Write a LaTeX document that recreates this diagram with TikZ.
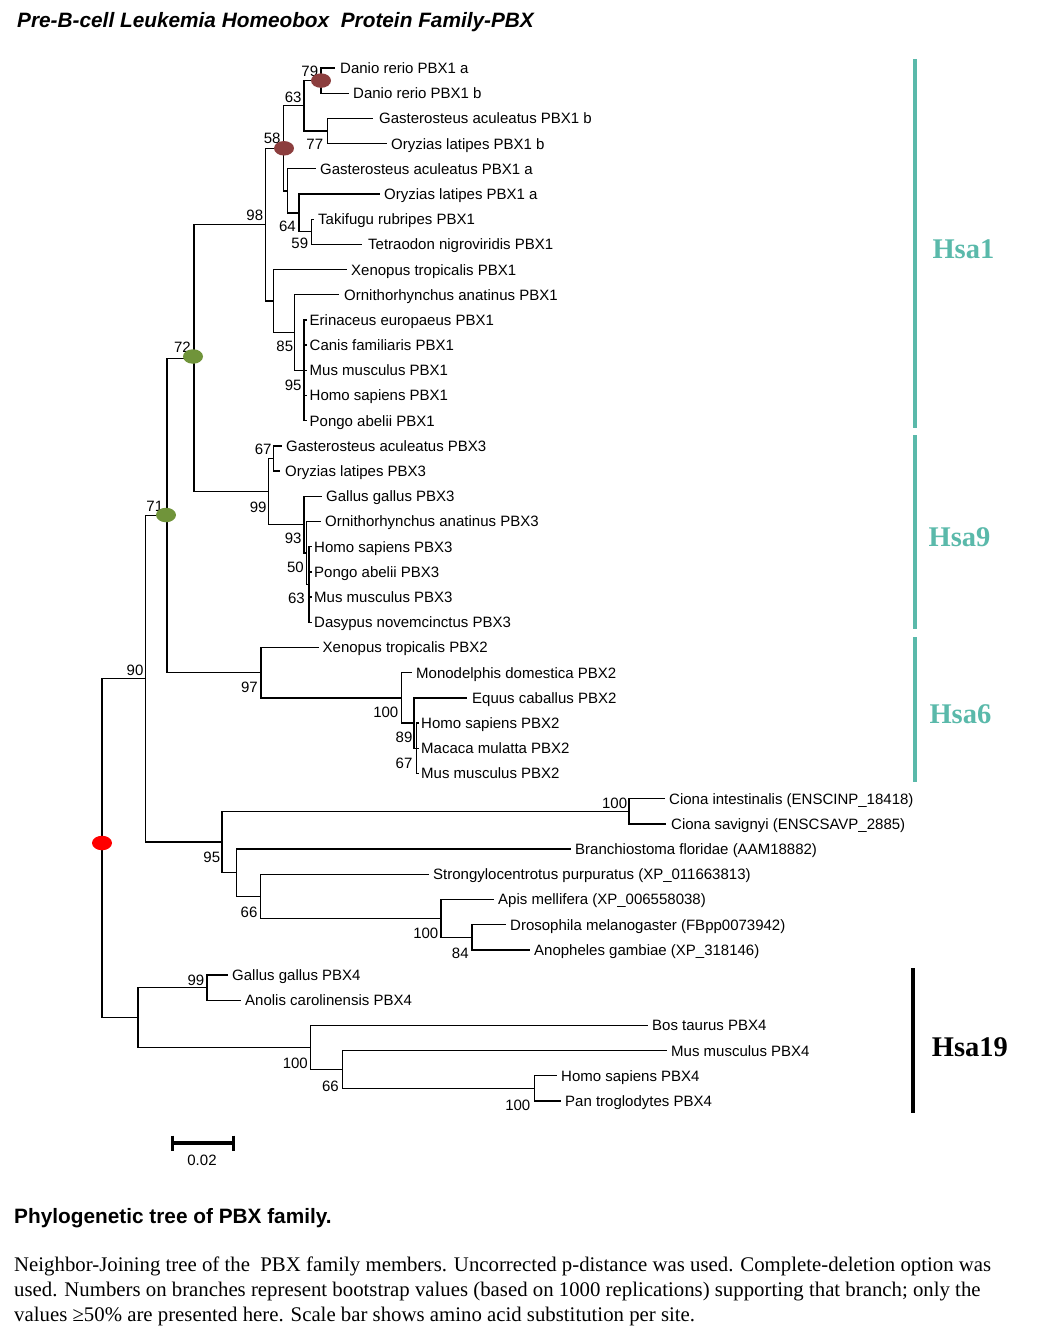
\documentclass[tikz,border=0pt]{standalone}
\usepackage{fontspec}
\newfontfamily\arialf{Liberation Sans}
\newfontfamily\tnrf{Liberation Serif}
\usetikzlibrary{shapes.geometric}
\definecolor{hteal}{RGB}{90,185,170}
\definecolor{dotred}{RGB}{255,0,0}
\definecolor{dotdark}{RGB}{140,62,62}
\definecolor{dotgreen}{RGB}{112,148,58}
\tikzset{
  branch/.style={line width=1.3pt, line join=miter, black},
  leaflab/.style={font=\arialf\fontsize{15}{17}\selectfont, anchor=base west, inner sep=0pt},
  bslab/.style={font=\arialf\fontsize{15}{17}\selectfont, anchor=base east, inner sep=0pt},
  dotnode/.style={shape=ellipse, minimum width=20pt, minimum height=14.5pt, inner sep=0pt, draw=none},
  hsalab/.style={font=\tnrf\bfseries\fontsize{28.5}{32}\selectfont, anchor=base west, inner sep=0pt},
  hsabar/.style={line width=4pt, hteal},
  captxt/.style={font=\tnrf\fontsize{20.8}{25}\selectfont, anchor=base west, inner sep=0pt},
}
\newcommand{\leaf}[5]{%
  \coordinate (#1) at (#2,#3);
  \node[leaflab] (#1t) at (#4,#3+5.4) {#5};}
\newcommand{\bsv}[4]{\node[bslab] (#1) at (#2,#3+5.4) {#4};}
\begin{document}
\begin{tikzpicture}[x=1pt,y=-1pt]
\useasboundingbox (0,0) rectangle (1051,1339);
% title
\node[font=\arialf\bfseries\itshape\fontsize{20.8}{24}\selectfont, anchor=base west, inner sep=0pt] (title) at (17,27.4) {Pre-B-cell Leukemia Homeobox~ Protein Family-PBX};
% leaves
\leaf{l0}{335}{68.0}{340}{Danio rerio PBX1 a}
\leaf{l1}{349}{93.2}{353}{Danio rerio PBX1 b}
\leaf{l2}{373}{118.4}{379}{Gasterosteus aculeatus PBX1 b}
\leaf{l3}{387}{143.6}{391}{Oryzias latipes PBX1 b}
\leaf{l4}{316}{168.8}{320}{Gasterosteus aculeatus PBX1 a}
\leaf{l5}{380}{194.0}{384}{Oryzias latipes PBX1 a}
\leaf{l6}{314}{219.2}{318}{Takifugu rubripes PBX1}
\leaf{l7}{362}{244.4}{368}{Tetraodon nigroviridis PBX1}
\leaf{l8}{347}{269.6}{351}{Xenopus tropicalis PBX1}
\leaf{l9}{339}{294.8}{344}{Ornithorhynchus anatinus PBX1}
\leaf{l10}{306.5}{320.0}{309.5}{Erinaceus europaeus PBX1}
\leaf{l11}{306.5}{345.1}{309.5}{Canis familiaris PBX1}
\leaf{l12}{306.5}{370.3}{309.5}{Mus musculus PBX1}
\leaf{l13}{306.5}{395.5}{309.5}{Homo sapiens PBX1}
\leaf{l14}{306.5}{420.7}{309.5}{Pongo abelii PBX1}
\leaf{l15}{281.7}{445.9}{286}{Gasterosteus aculeatus PBX3}
\leaf{l16}{280}{471.1}{285}{Oryzias latipes PBX3}
\leaf{l17}{321.7}{496.3}{326}{Gallus gallus PBX3}
\leaf{l18}{320.7}{521.5}{325}{Ornithorhynchus anatinus PBX3}
\leaf{l19}{311.5}{546.7}{314}{Homo sapiens PBX3}
\leaf{l20}{311.5}{571.9}{314}{Pongo abelii PBX3}
\leaf{l21}{311.5}{597.1}{314}{Mus musculus PBX3}
\leaf{l22}{311.5}{622.3}{314}{Dasypus novemcinctus PBX3}
\leaf{l23}{319}{647.5}{322.5}{Xenopus tropicalis PBX2}
\leaf{l24}{412}{672.7}{416}{Monodelphis domestica PBX2}
\leaf{l25}{467}{697.9}{472}{Equus caballus PBX2}
\leaf{l26}{418.5}{723.1}{421}{Homo sapiens PBX2}
\leaf{l27}{418.5}{748.3}{421}{Macaca mulatta PBX2}
\leaf{l28}{418.5}{773.5}{421}{Mus musculus PBX2}
\leaf{l29}{665}{798.7}{669}{Ciona intestinalis (ENSCINP\_18418)}
\leaf{l30}{666}{823.9}{671}{Ciona savignyi (ENSCSAVP\_2885)}
\leaf{l31}{571}{849.1}{575}{Branchiostoma floridae (AAM18882)}
\leaf{l32}{429}{874.3}{433}{Strongylocentrotus purpuratus (XP\_011663813)}
\leaf{l33}{494}{899.5}{498}{Apis mellifera (XP\_006558038)}
\leaf{l34}{506}{924.7}{510}{Drosophila melanogaster (FBpp0073942)}
\leaf{l35}{530}{949.9}{534}{Anopheles gambiae (XP\_318146)}
\leaf{l36}{228}{975.1}{232}{Gallus gallus PBX4}
\leaf{l37}{241}{1000.3}{245}{Anolis carolinensis PBX4}
\leaf{l38}{648}{1025.5}{652}{Bos taurus PBX4}
\leaf{l39}{667}{1050.7}{671}{Mus musculus PBX4}
\leaf{l40}{557}{1075.8}{561}{Homo sapiens PBX4}
\leaf{l41}{561}{1101.0}{565}{Pan troglodytes PBX4}
% internal nodes
\coordinate (root) at (102,848.15);
\coordinate (n90) at (145.4,678.7);
\coordinate (n71) at (167,515.4);
\coordinate (n72) at (194,358.15);
\coordinate (n98) at (265.7,224.7);
\coordinate (n58) at (283.5,148.3);
\coordinate (n63) at (304,105.8);
\coordinate (nD) at (321,80.6);
\coordinate (n77) at (327.7,131.0);
\coordinate (nY) at (287.7,190.85);
\coordinate (n64) at (299,212.9);
\coordinate (n59) at (311.7,231.8);
\coordinate (nZ) at (273.3,301.1);
\coordinate (n85) at (294.3,332.6);
\coordinate (nM1) at (304,370.35);
\coordinate (n99a) at (268.3,491.6);
\coordinate (n67a) at (273.3,458.5);
\coordinate (n93) at (304,524.65);
\coordinate (nO3) at (306.5,553.0);
\coordinate (nM3) at (309,584.5);
\coordinate (n97) at (261,672.7);
\coordinate (n100b) at (401.3,697.9);
\coordinate (n89) at (414,723.1);
\coordinate (nX) at (416.5,748.3);
\coordinate (n95) at (222,842.0);
\coordinate (nCi) at (629,811.3);
\coordinate (nB) at (236.3,872.7);
\coordinate (n66a) at (260.2,896.35);
\coordinate (n100i) at (441.1,918.4);
\coordinate (n84) at (472,937.3);
\coordinate (nP4) at (137.9,1017.6);
\coordinate (n99p) at (207,987.7);
\coordinate (n100p) at (310.8,1047.5);
\coordinate (n66p) at (342.7,1069.55);
\coordinate (n100h) at (534.2,1088.4);
% branches
\foreach \p/\c in {root/n90,root/nP4,n90/n71,n90/n95,n71/n72,n71/n97,n72/n98,n72/n99a,
  n98/n58,n98/nZ,n58/n63,n58/nY,n63/nD,n63/n77,nD/l0,nD/l1,n77/l2,n77/l3,
  nY/l4,nY/n64,n64/l5,n64/n59,n59/l6,n59/l7,nZ/l8,nZ/n85,n85/l9,n85/nM1,
  nM1/l10,nM1/l11,nM1/l12,nM1/l13,nM1/l14,n99a/n67a,n99a/n93,n67a/l15,n67a/l16,
  n93/l17,n93/nO3,nO3/l18,nO3/nM3,nM3/l19,nM3/l20,nM3/l21,nM3/l22,
  n97/l23,n97/n100b,n100b/l24,n100b/n89,n89/l25,n89/nX,nX/l26,nX/l27,nX/l28,
  n95/nCi,n95/nB,nCi/l29,nCi/l30,nB/l31,nB/n66a,n66a/l32,n66a/n100i,n100i/l33,n100i/n84,
  n84/l34,n84/l35,nP4/n99p,nP4/n100p,n99p/l36,n99p/l37,n100p/l38,n100p/n66p,
  n66p/l39,n66p/n100h,n100h/l40,n100h/l41}
  \draw[branch] (\p) |- (\c);
% bootstrap values
\bsv{b79}{318.3}{70.7}{79}
\bsv{b63}{301.7}{96.7}{63}
\bsv{b77}{323.3}{144.3}{77}
\bsv{b58}{280.7}{138.3}{58}
\bsv{b64}{296}{226}{64}
\bsv{b59}{308.3}{243.3}{59}
\bsv{b98}{263.3}{215}{98}
\bsv{b85}{293.3}{346}{85}
\bsv{b95}{301.7}{385}{95}
\bsv{b72}{191}{347}{72}
\bsv{b67}{271.7}{449.3}{67}
\bsv{b99}{266.7}{506.7}{99}
\bsv{b71}{163.3}{505.6}{71}
\bsv{b93}{301.7}{538}{93}
\bsv{b50}{304}{566.7}{50}
\bsv{b63b}{305}{598}{63}
\bsv{b90}{143.6}{670}{90}
\bsv{b97}{258}{687.3}{97}
\bsv{b100a}{398.5}{711.7}{100}
\bsv{b89}{412.6}{737}{89}
\bsv{b67b}{412.6}{763}{67}
\bsv{b100c}{627.3}{802.7}{100}
\bsv{b95b}{220.3}{856.7}{95}
\bsv{b66a}{257.6}{911.7}{66}
\bsv{b100i}{438.5}{933.3}{100}
\bsv{b84}{468.8}{953.3}{84}
\bsv{b99p}{204.4}{980}{99}
\bsv{b100p}{308}{1063.3}{100}
\bsv{b66p}{339}{1086}{66}
\bsv{b100h}{530.5}{1105}{100}
% dots
\node[dotnode, fill=dotred] (dRoot) at (102,843) {};
\node[dotnode, fill=dotdark] (dD) at (321,80.6) {};
\node[dotnode, fill=dotdark] (d58) at (284,148.3) {};
\node[dotnode, fill=dotgreen] (d72) at (193,356.5) {};
\node[dotnode, fill=dotgreen] (d71) at (166,515) {};
% clade bars
\draw[hsabar] (914.5,59) -- (914.5,428.3);
\draw[hsabar] (914.5,435) -- (914.5,629.3);
\draw[hsabar] (914.5,637.3) -- (914.5,781.7);
\draw[line width=3.8pt, black] (913.3,968.3) -- (913.3,1113.3);
\node[hsalab, text=hteal] (hsa1) at (932.3,258.4) {Hsa1};
\node[hsalab, text=hteal] (hsa9) at (928.5,546.7) {Hsa9};
\node[hsalab, text=hteal] (hsa6) at (929.3,723.7) {Hsa6};
\node[hsalab, text=black] (hsa19) at (931.7,1056.4) {Hsa19};
% scale bar
\coordinate (sbL) at (172.5,1142.7);
\coordinate (sbR) at (233.5,1142.7);
\draw[line width=4pt] (sbL) -- (sbR);
\draw[line width=3.5pt] ([yshift=7pt]sbL) -- ([yshift=-8pt]sbL);
\draw[line width=3.5pt] ([yshift=7pt]sbR) -- ([yshift=-8pt]sbR);
\node[bslab, anchor=base] (sblab) at (202,1165.3) {0.02};
% caption
\node[font=\arialf\bfseries\fontsize{20.8}{24}\selectfont, anchor=base west, inner sep=0pt] (capt) at (14,1223.4) {Phylogenetic tree of PBX family.};
\node[captxt] (cap1) at (14,1271) {Neighbor-Joining tree of the~ PBX family members. Uncorrected p-distance was used. Complete-deletion option was};
\node[captxt] (cap2) at (14,1296) {used. Numbers on branches represent bootstrap values (based on 1000 replications) supporting that branch; only the};
\node[captxt] (cap3) at (14,1321) {values ≥50\% are presented here. Scale bar shows amino acid substitution per site.};
\end{tikzpicture}
\end{document}
